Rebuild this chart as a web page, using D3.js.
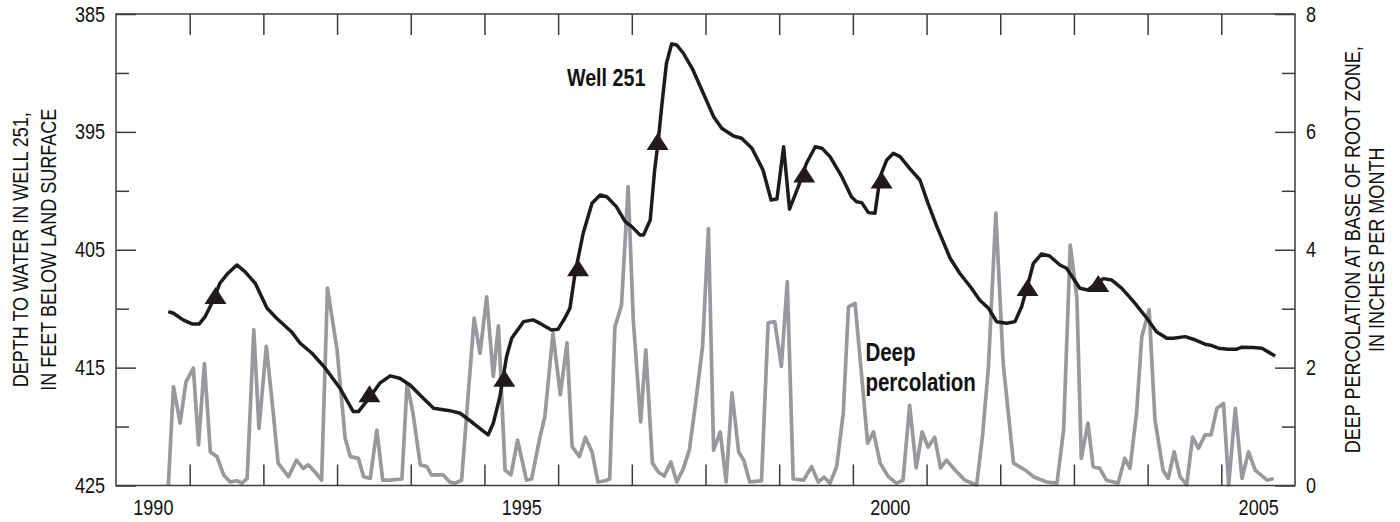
<!DOCTYPE html>
<html>
<head>
<meta charset="utf-8">
<script src="https://cdn.jsdelivr.net/npm/d3@7"></script>
<style>
  html, body { margin: 0; padding: 0; background: #fff; }
  svg { display: block; }
  text { font-family: "Liberation Sans", Arial, sans-serif; fill: #111; }
</style>
</head>
<body>
<svg id="chart" width="1400" height="522"></svg>
<script>
// ---- Data ----
// Well 251 depth to water (feet below land surface), decimal year
const wellYear = [1990.71,1990.78,1990.91,1991.03,1991.13,1991.21,1991.30,1991.41,1991.52,1991.64,1991.75,1991.89,
  1992.05,1992.18,1992.38,1992.50,1992.66,1992.84,1993.04,1993.22,1993.29,1993.45,1993.58,1993.72,1993.85,1993.99,
  1994.17,1994.31,1994.53,1994.67,1994.85,1995.05,1995.12,1995.21,1995.30,1995.37,1995.53,1995.66,1995.75,1995.91,
  1996.00,1996.09,1996.16,1996.23,1996.34,1996.46,1996.57,1996.66,1996.79,1996.91,1997.00,1997.11,1997.16,1997.25,
  1997.31,1997.36,1997.41,1997.47,1997.54,1997.61,1997.70,1997.83,1997.97,1998.11,1998.22,1998.38,1998.49,1998.63,
  1998.78,1998.89,1998.97,1999.06,1999.14,1999.26,1999.37,1999.49,1999.58,1999.69,1999.85,1999.98,2000.05,2000.12,
  2000.21,2000.30,2000.37,2000.46,2000.55,2000.64,2000.77,2000.91,2001.02,2001.14,2001.32,2001.45,2001.61,2001.72,
  2001.84,2001.95,2002.09,2002.20,2002.29,2002.38,2002.45,2002.56,2002.67,2002.81,2002.90,2002.99,2003.08,2003.19,
  2003.31,2003.40,2003.51,2003.65,2003.81,2003.99,2004.12,2004.26,2004.35,2004.51,2004.62,2004.78,2004.87,2004.96,
  2005.09,2005.21,2005.28,2005.43,2005.55,2005.73];
const wellDepth = [410.25,410.39,410.95,411.29,411.29,410.67,409.54,407.84,406.99,406.29,406.86,407.84,
  409.96,410.81,411.95,412.93,413.78,415.05,416.75,418.73,418.73,417.46,416.32,415.70,415.90,416.47,
  417.60,418.44,418.65,418.87,419.72,420.71,419.72,417.46,414.07,412.51,411.10,410.95,411.23,411.80,
  411.74,410.81,409.96,406.99,403.60,401.06,400.35,400.50,401.34,402.62,403.04,403.74,403.74,402.47,
  398.23,395.69,392.57,389.18,387.54,387.63,388.33,389.75,391.73,393.71,394.69,395.35,395.54,396.39,
  398.23,400.78,400.69,396.26,401.56,399.65,397.66,396.26,396.39,397.10,398.80,400.50,400.92,401.00,
  401.85,401.90,398.80,397.38,396.82,397.10,398.09,399.08,401.06,403.04,405.72,406.99,408.27,409.26,
  409.96,411.10,411.23,411.10,409.83,407.84,406.15,405.36,405.53,406.29,406.57,407.42,408.27,408.41,
  407.84,407.45,407.56,408.27,409.40,410.81,411.95,412.51,412.51,412.37,412.59,413.01,413.13,413.35,
  413.44,413.44,413.27,413.30,413.35,414.01];

// Triangle markers on the well hydrograph
const markerYear  = [1991.35, 1993.44, 1995.27, 1996.27, 1997.35, 1999.34, 2000.39, 2002.37, 2003.33];
const markerDepth = [408.89, 417.21, 415.90, 406.53, 395.81, 398.57, 399.08, 408.20, 407.86];

// Deep percolation at base of root zone (inches per month)
const percYear = [1990.71,1990.78,1990.87,1990.95,1991.05,1991.12,1991.20,1991.28,1991.37,1991.46,1991.55,1991.64,
  1991.71,1991.78,1991.87,1991.94,1992.04,1992.13,1992.20,1992.34,1992.45,1992.54,1992.61,1992.70,1992.79,1992.87,
  1993.00,1993.11,1993.18,1993.29,1993.36,1993.45,1993.54,1993.62,1993.72,1993.88,1993.95,1994.03,1994.13,1994.22,
  1994.28,1994.44,1994.53,1994.60,1994.69,1994.86,1994.94,1995.03,1995.12,1995.19,1995.28,1995.36,1995.45,1995.57,
  1995.64,1995.75,1995.82,1995.93,1996.03,1996.12,1996.19,1996.29,1996.37,1996.46,1996.54,1996.64,1996.70,1996.77,
  1996.86,1996.95,1997.02,1997.12,1997.19,1997.28,1997.36,1997.44,1997.53,1997.61,1997.70,1997.78,1997.86,1997.96,
  1998.04,1998.11,1998.20,1998.28,1998.36,1998.45,1998.52,1998.60,1998.76,1998.85,1998.94,1999.03,1999.11,1999.19,
  1999.33,1999.44,1999.53,1999.61,1999.69,1999.78,1999.87,1999.94,2000.03,2000.12,2000.20,2000.28,2000.37,2000.48,
  2000.59,2000.68,2000.77,2000.86,2000.94,2001.02,2001.11,2001.19,2001.27,2001.39,2001.52,2001.68,2001.76,2001.84,
  2001.94,2002.04,2002.18,2002.34,2002.45,2002.63,2002.77,2002.86,2002.95,2003.04,2003.10,2003.19,2003.26,2003.35,
  2003.44,2003.60,2003.69,2003.76,2003.85,2003.92,2004.02,2004.10,2004.21,2004.28,2004.36,2004.44,2004.53,2004.61,
  2004.69,2004.78,2004.86,2004.94,2005.03,2005.10,2005.19,2005.28,2005.37,2005.46,2005.62,2005.71];
const percValue = [0.00,1.68,1.06,1.76,1.99,0.69,2.07,0.57,0.49,0.18,0.06,0.08,
  0.04,0.12,2.64,0.97,2.36,1.28,0.38,0.15,0.43,0.29,0.35,0.23,0.09,3.35,
  2.30,0.80,0.49,0.46,0.15,0.12,0.94,0.09,0.09,0.11,1.73,1.23,0.35,0.32,
  0.18,0.18,0.06,0.04,0.09,2.84,2.24,3.20,1.85,2.71,0.26,0.18,0.77,0.09,
  0.11,0.80,1.17,2.58,1.54,2.42,0.66,0.49,0.82,0.57,0.06,0.08,0.11,2.69,
  3.06,5.07,2.81,1.08,2.30,0.38,0.23,0.16,0.40,0.06,0.29,0.60,1.34,2.36,
  4.36,0.60,0.91,0.06,1.57,0.57,0.43,0.06,0.08,2.76,2.78,2.02,3.46,0.11,
  0.09,0.32,0.06,0.14,0.04,0.32,1.23,3.03,3.09,1.85,0.72,0.91,0.38,0.15,
  0.04,0.09,1.36,0.30,0.91,0.65,0.82,0.30,0.43,0.26,0.09,0.01,0.85,2.02,
  4.62,2.07,0.38,0.26,0.15,0.06,0.04,0.94,4.08,3.18,0.46,1.06,0.32,0.29,
  0.09,0.04,0.46,0.29,1.23,2.52,2.98,1.11,0.26,0.12,0.57,0.15,0.01,0.82,
  0.63,0.86,0.86,1.31,1.39,0.01,1.31,0.12,0.57,0.26,0.09,0.12];

// Axis ticks and labels
const yearTicks = [1991,1992,1993,1994,1995,1996,1997,1998,1999,2000,2001,2002,2003,2004,2005];
const yearLabels = [1990, 1995, 2000, 2005];
const depthMajor = [385, 395, 405, 415, 425];
const depthMinor = [390, 400, 410, 420];
const percMajor = [0, 2, 4, 6, 8];
const percMinor = [1, 3, 5, 7];

// ---- Layout ----
const L = 116, R = 1295, T = 14, B = 485.5;
const svg = d3.select("#chart");
const x = d3.scaleLinear().domain([1990, 2006]).range([L, R]);
const yL = d3.scaleLinear().domain([385, 425]).range([T, B]);
const yR = d3.scaleLinear().domain([0, 8]).range([B, T]);

const axisColor = "#3b3b3b";
const FS = 22;
const NARROW = 0.82;

// squeeze text horizontally to mimic a condensed typeface
function condense(sel) {
  sel.each(function () {
    const len = this.getComputedTextLength();
    this.setAttribute("textLength", (len * NARROW).toFixed(2));
    this.setAttribute("lengthAdjust", "spacingAndGlyphs");
  });
}

// Deep percolation line
const percData = percYear.map((d, i) => [d, percValue[i]]);
svg.append("path").datum(percData)
  .attr("fill", "none").attr("stroke", "#98999c").attr("stroke-width", 3.7)
  .attr("stroke-linejoin", "round")
  .attr("d", d3.line().x(d => x(d[0])).y(d => yR(d[1])));

// Well line
const wellData = wellYear.map((d, i) => [d, wellDepth[i]]);
svg.append("path").datum(wellData)
  .attr("fill", "none").attr("stroke", "#1f1b1c").attr("stroke-width", 3.5)
  .attr("stroke-linejoin", "round")
  .attr("d", d3.line().x(d => x(d[0])).y(d => yL(d[1])));

// Triangles
svg.selectAll("path.tri").data(markerYear.map((d, i) => [d, markerDepth[i]]))
  .join("path").attr("class", "tri")
  .attr("d", "M0,-8.5L11,8.5L-11,8.5Z")
  .attr("fill", "#1f1b1c")
  .attr("transform", d => `translate(${x(d[0])},${yL(d[1])})`);

// Frame
svg.append("rect").attr("x", L).attr("y", T).attr("width", R - L).attr("height", B - T)
  .attr("fill", "none").attr("stroke", axisColor).attr("stroke-width", 1.5);

function styleAxis(g) {
  g.select(".domain").remove();
  g.selectAll(".tick line").attr("stroke", axisColor).attr("stroke-width", 1.5);
  g.selectAll(".tick text").attr("font-size", FS).attr("fill", "#111")
    .style("font-family", '"Liberation Sans", Arial, sans-serif')
    .call(condense);
}

// Year ticks (inward, bottom and top)
svg.append("g").attr("transform", `translate(0,${B})`)
  .call(d3.axisBottom(x).tickValues(yearTicks).tickSize(-21).tickFormat(""))
  .call(styleAxis);
svg.append("g").attr("transform", `translate(0,${T})`)
  .call(d3.axisTop(x).tickValues(yearTicks).tickSize(-21).tickFormat(""))
  .call(styleAxis);
// Year labels centered on each year
svg.append("g").attr("transform", `translate(0,${B})`)
  .call(d3.axisBottom(x).tickValues(yearLabels.map(d => d + 0.5)).tickSize(0).tickPadding(14)
    .tickFormat(d => String(Math.floor(d))))
  .call(styleAxis);

// Left axis
svg.append("g").attr("transform", `translate(${L},0)`)
  .call(d3.axisLeft(yL).tickValues(depthMajor).tickSize(-20).tickPadding(11).tickFormat(d3.format("d")))
  .call(styleAxis);
svg.append("g").attr("transform", `translate(${L},0)`)
  .call(d3.axisLeft(yL).tickValues(depthMinor).tickSize(-13).tickFormat(""))
  .call(styleAxis);

// Right axis
svg.append("g").attr("transform", `translate(${R},0)`)
  .call(d3.axisRight(yR).tickValues(percMajor).tickSize(-20).tickPadding(11).tickFormat(d3.format("d")))
  .call(styleAxis);
svg.append("g").attr("transform", `translate(${R},0)`)
  .call(d3.axisRight(yR).tickValues(percMinor).tickSize(-13).tickFormat(""))
  .call(styleAxis);

// Axis titles (condensed with a transform so their boxes stay true)
const midY = (T + B) / 2;
const titleLines = [
  { text: "DEPTH TO WATER IN WELL 251,", bx: 28 },
  { text: "IN FEET BELOW LAND SURFACE", bx: 56 },
  { text: "DEEP PERCOLATION AT BASE OF ROOT ZONE,", bx: 1360 },
  { text: "IN INCHES PER MONTH", bx: 1384 }
];
svg.selectAll("text.atitle").data(titleLines).join("text").attr("class", "atitle")
  .attr("transform", d => `translate(${d.bx},${midY}) rotate(-90) scale(${NARROW},1)`)
  .attr("text-anchor", "middle").attr("font-size", FS)
  .text(d => d.text);

// Series labels
svg.append("text").attr("x", x(1996.12)).attr("y", yL(391.1))
  .attr("font-size", 24).attr("font-weight", "bold").text("Well 251").call(condense);
svg.append("text").attr("x", x(2000.17)).attr("y", yR(2.11))
  .attr("font-size", 25).attr("font-weight", "bold").text("Deep").call(condense);
svg.append("text").attr("x", x(2000.17)).attr("y", yR(1.6))
  .attr("font-size", 25).attr("font-weight", "bold").text("percolation").call(condense);
</script>
</body>
</html>
